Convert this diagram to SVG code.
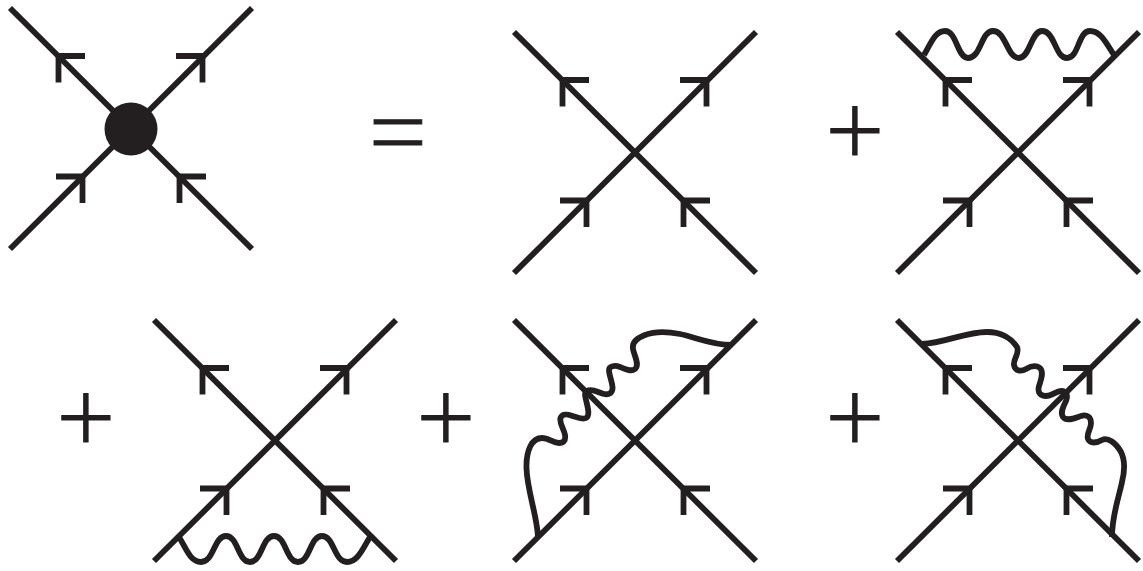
<svg xmlns="http://www.w3.org/2000/svg" width="1143" height="571" viewBox="0 0 1143 571">
<style>
.l{fill:none;stroke:#231f20;stroke-width:5.800;stroke-linejoin:round}
.s{fill:#231f20;stroke:#231f20;stroke-width:1;font-family:"Open Sans","Liberation Sans",sans-serif;font-weight:300;font-size:104px;text-anchor:middle}
</style>
<defs>
<g id="cross">
<path class="l" d="M-121-120.500L121 120.500M121-120.500L-121 120.500"/>
<path class="l" d="M-46-72.500H-72.500V-46M45-72.500H71.500V-46M-75 48H-48.500V74.500M75 48H48.500V74.500"/>
</g>
</defs>
<g id="vertex"><use href="#cross" x="131" y="128.500"/><circle cx="131" cy="129" r="26.500" fill="#231f20"/></g>
<g id="tree"><use href="#cross" x="635" y="152.500"/></g>
<g id="top-loop"><use href="#cross" x="1018" y="152.500"/></g>
<g id="bottom-loop"><use href="#cross" x="275" y="440.500"/></g>
<g id="left-cross"><use href="#cross" x="635" y="440.500"/></g>
<g id="right-cross"><use href="#cross" x="1018" y="440.500"/></g>
<g id="connectors">
<path class="l" d="M924 55C931 43 935 31 945 31C957 31 957 58 968 58C981 58 981 31 993 31C1006 31 1007 58 1019 58C1030 58 1031 31 1042 31C1055 31 1055 58 1067 58C1079 58 1078 31 1090 31C1101 31 1106 43 1114 55"/>
<path class="l" d="M179 537C186 548 190 562 201 562C214 562 214 536 226 536C238 536 238 562 250 562C262 562 262 536 274 536C286 536 286 562 298 562C310 562 310 536 322 536C334 536 334 562 347 562C358 562 363 548 370 537"/>
<path class="l" d="M538 537C537 515 527 490 526.500 468C526 450 532 438 542 438C549 438 553 443 559 443C563 443 566 441 565 435C564 429 559 423 560.500 418C562 414 567 414 571 415.500C576 417 582 420 586 418C590 416 588 408 586.500 402C585 396 584 393 587 391C592 388 599 393 604 394C609 395 613 393 612.500 387C612 381 609 375 609 370C609 366 615 365 620 367C625 369 631 372 635 369C640 365 634 355 633 349C632 343 637 338 645 335C655 331 665 331 680 334C695 337 712 345 732 345"/>
<path class="l" d="M922 344C945 343 965 332 987 332C1002 332 1012 339 1017 347C1020 353 1013 359 1014 365C1015 371 1021 372 1026 369C1031 366 1036 365 1040 368C1044 372 1041 380 1039 386C1037 393 1041 396 1046 396C1052 396 1056 391 1061 391C1067 391 1068 396 1066 401C1063 407 1060 413 1063 417C1067 422 1075 418 1081 416C1087 414 1091 417 1091 423C1091 429 1086 434 1088 439C1090 444 1097 443 1102 440C1108 437 1116 443 1121 452C1125 460 1125 470 1122 482C1119 497 1112 515 1112 537"/>
</g>
<text class="s" x="398" y="168.500">=</text>
<text class="s" x="855" y="167">+</text>
<text class="s" x="86" y="453.500">+</text>
<text class="s" x="446" y="453.500">+</text>
<text class="s" x="855" y="453.500">+</text>
</svg>
